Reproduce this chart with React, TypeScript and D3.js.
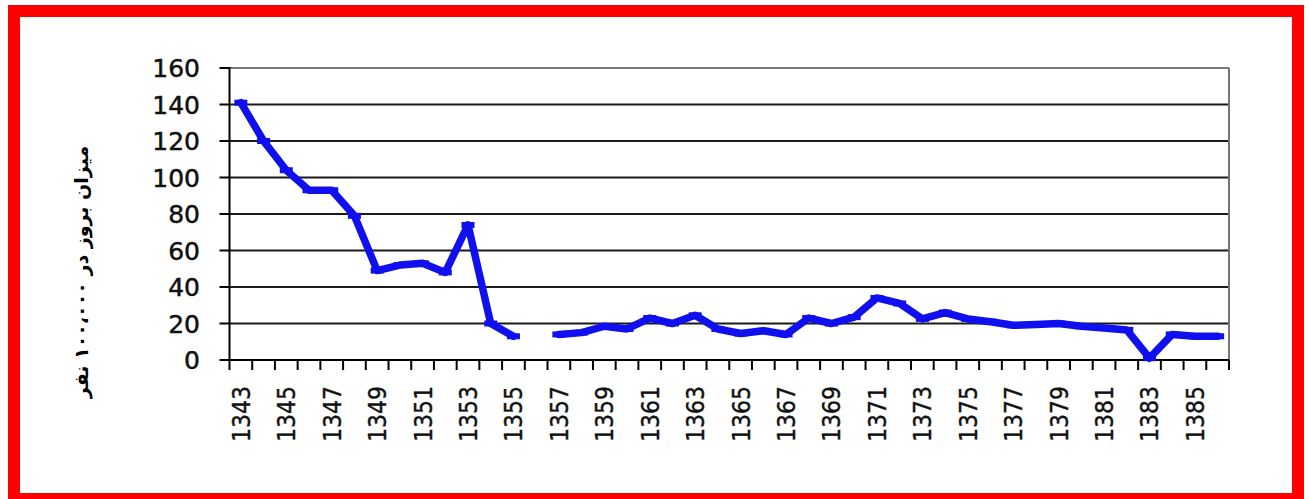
import React from "react";
import * as d3 from "d3";

const years: number[] = [
  1343, 1344, 1345, 1346, 1347, 1348, 1349, 1350, 1351, 1352, 1353, 1354, 1355, 1356,
  1357, 1358, 1359, 1360, 1361, 1362, 1363, 1364, 1365, 1366, 1367, 1368, 1369, 1370,
  1371, 1372, 1373, 1374, 1375, 1376, 1377, 1378, 1379, 1380, 1381, 1382, 1383, 1384,
  1385, 1386,
];
const incidence: (number | null)[] = [
  141, 120, 104, 93, 93, 79, 49, 52, 53, 48, 74, 20, 13, null,
  14, 15, 18.5, 17, 23, 20, 24.5, 17, 14.5, 16, 14, 23, 20, 23.5,
  34, 31, 22.5, 26, 22.5, 21, 19, 19.5, 20, 18.5, 17.5, 16.5, 1, 14,
  13, 13,
];
const yTicks: number[] = [0, 20, 40, 60, 80, 100, 120, 140, 160];
const yTitle = "میزان بروز در ۱۰۰،۰۰۰ نفر";

const W = 1309;
const H = 499;
const plotLeft = 229.5;
const plotRight = 1229;
const plotTop = 68;
const plotBottom = 360;

export default function App() {
  const x = d3.scaleBand<number>().domain(years).range([plotLeft, plotRight]).padding(0);
  const y = d3.scaleLinear().domain([0, 160]).range([plotBottom, plotTop]);
  const cx = (yr: number) => (x(yr) as number) + x.bandwidth() / 2;

  const pts = years.map((yr, i) => ({ yr, v: incidence[i] }));
  const line = d3
    .line<{ yr: number; v: number | null }>()
    .defined((d) => d.v !== null)
    .x((d) => cx(d.yr))
    .y((d) => y(d.v as number));

  const boundaries = [...years.map((yr) => x(yr) as number), plotRight];
  const font = "'DejaVu Sans', Tahoma, Verdana, sans-serif";

  return (
    <svg
      width={W}
      height={H}
      style={{ position: "absolute", left: 0, top: 0, background: "#fff" }}
    >
      <rect x={0} y={0} width={W} height={H} fill="#fff" />
      {/* red frame */}
      <rect x={14} y={11} width={1284} height={488} fill="none" stroke="#ff0000" strokeWidth={12} />

      {/* gridlines */}
      {yTicks
        .filter((t) => t > 0)
        .map((t) => (
          <line
            key={"g" + t}
            x1={plotLeft}
            x2={plotRight}
            y1={y(t)}
            y2={y(t)}
            stroke={t === 160 ? "#777" : "#1a1a1a"}
            strokeWidth={2}
          />
        ))}
      {/* right border */}
      <line x1={plotRight} x2={plotRight} y1={plotTop} y2={plotBottom} stroke="#777" strokeWidth={2} />

      {/* y axis */}
      <line x1={plotLeft} x2={plotLeft} y1={plotTop - 1} y2={plotBottom + 1} stroke="#000" strokeWidth={2} />
      {yTicks.map((t) => (
        <g key={"yt" + t}>
          <line x1={plotLeft - 10} x2={plotLeft} y1={y(t)} y2={y(t)} stroke="#000" strokeWidth={2} />
          <text
            x={200}
            y={y(t)}
            dy="0.36em"
            textAnchor="end"
            fontFamily={font}
            fontSize={25}
            fill="#111"
            stroke="#111"
            strokeWidth={0.5}
          >
            {t}
          </text>
        </g>
      ))}

      {/* x axis */}
      <line x1={plotLeft} x2={plotRight} y1={plotBottom} y2={plotBottom} stroke="#000" strokeWidth={2} />
      {boundaries.map((bx, i) => (
        <line key={"xt" + i} x1={bx} x2={bx} y1={plotBottom} y2={plotBottom + 10} stroke="#000" strokeWidth={2} />
      ))}
      {years
        .filter((_, i) => i % 2 === 0)
        .map((yr) => (
          <text
            key={"xl" + yr}
            transform={`translate(${cx(yr)},386) rotate(-90)`}
            dy="0.36em"
            textAnchor="end"
            fontFamily={font}
            fontSize={25}
            textLength={56}
            lengthAdjust="spacingAndGlyphs"
            fill="#111"
            stroke="#111"
            strokeWidth={0.4}
          >
            {yr}
          </text>
        ))}

      {/* y title */}
      <text
        transform={`translate(81,272) rotate(-90)`}
        dy="0.35em"
        textAnchor="middle"
        fontFamily="'DejaVu Sans', sans-serif"
        fontWeight="bold"
        fontSize={19}
        fill="#000"
        direction="rtl"
      >
        {yTitle}
      </text>

      {/* data line */}
      <path
        d={line(pts) || ""}
        fill="none"
        stroke="#1010ee"
        strokeWidth={7.5}
        strokeLinejoin="round"
        strokeLinecap="round"
      />
      {pts
        .filter((d) => d.v !== null)
        .map((d) => (
          <rect
            key={"m" + d.yr}
            x={cx(d.yr) - 6.5}
            y={y(d.v as number) - 3}
            width={13}
            height={6}
            fill="#1010ee"
          />
        ))}
    </svg>
  );
}
